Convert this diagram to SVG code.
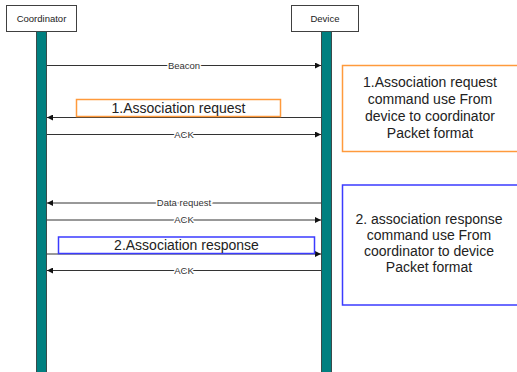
<svg xmlns="http://www.w3.org/2000/svg" width="517" height="372" viewBox="0 0 517 372">
  <style>
    .actor { fill: #ffffff; stroke: #404040; stroke-width: 1; }
    .actor-label { font-family: "Liberation Sans", Arial, sans-serif; font-size: 9.5px; fill: #222; text-anchor: middle; }
    .lifeline { fill: #008080; stroke: #3a4a4a; stroke-width: 1; }
    .msg { stroke: #333; stroke-width: 1; fill: none; }
    .msg-label { font-family: "Liberation Sans", Arial, sans-serif; font-size: 9.5px; fill: #333; text-anchor: middle; stroke: #ffffff; stroke-width: 3; paint-order: stroke; }
    .big { font-family: "Liberation Sans", Arial, sans-serif; font-size: 14px; fill: #222; text-anchor: middle; }
    .orange { fill: #ffffff; stroke: #ff9a3c; stroke-width: 1.5; }
    .blue { fill: #ffffff; stroke: #3b3bff; stroke-width: 1.5; }
  </style>
  <defs>
    <marker id="arrow" viewBox="0 0 10 10" refX="10" refY="5" markerWidth="8" markerHeight="6" markerUnits="userSpaceOnUse" orient="auto">
      <path d="M0,0 L10,5 L0,10 Z" fill="#111"/>
    </marker>
  </defs>
  <rect width="517" height="372" fill="#ffffff"/>

  <!-- actors and lifelines -->
  <g id="coordinator">
    <rect class="actor" x="6.5" y="5.5" width="70" height="26"/>
    <text class="actor-label" x="41.5" y="21.5">Coordinator</text>
    <rect class="lifeline" x="36.5" y="31.5" width="10" height="345"/>
  </g>
  <g id="device">
    <rect class="actor" x="291.5" y="5.5" width="67" height="26"/>
    <text class="actor-label" x="325" y="21.5">Device</text>
    <rect class="lifeline" x="321.5" y="31.5" width="10" height="345"/>
  </g>

  <!-- messages -->
  <g id="connectors">
    <line class="msg" x1="47" y1="65.5" x2="321" y2="65.5" marker-end="url(#arrow)"/>
    <text class="msg-label" x="184" y="68.5">Beacon</text>

    <line class="msg" x1="321" y1="117.5" x2="47" y2="117.5" marker-end="url(#arrow)"/>

    <line class="msg" x1="47" y1="134.5" x2="321" y2="134.5" marker-end="url(#arrow)"/>
    <text class="msg-label" x="184" y="137.5">ACK</text>

    <line class="msg" x1="321" y1="203" x2="47" y2="203" marker-end="url(#arrow)"/>
    <text class="msg-label" x="184" y="206">Data request</text>

    <line class="msg" x1="47" y1="220" x2="321" y2="220" marker-end="url(#arrow)"/>
    <text class="msg-label" x="184" y="223">ACK</text>

    <line class="msg" x1="47" y1="254" x2="321" y2="254" marker-end="url(#arrow)"/>

    <line class="msg" x1="321" y1="270.5" x2="47" y2="270.5" marker-end="url(#arrow)"/>
    <text class="msg-label" x="184" y="273.5">ACK</text>
  </g>

  <!-- message captions -->
  <g id="assoc-request">
    <rect class="orange" x="76.5" y="99.5" width="204" height="17"/>
    <text class="big" x="178.5" y="113">1.Association request</text>
  </g>
  <g id="assoc-response">
    <rect class="blue" x="58.5" y="237" width="256" height="16.5"/>
    <text class="big" x="186.5" y="249.5">2.Association response</text>
  </g>

  <!-- notes -->
  <g id="note-request">
    <rect class="orange" x="342.5" y="65.5" width="180" height="86"/>
    <text class="big" x="430" y="87">1.Association request</text>
    <text class="big" x="430" y="104">command use From</text>
    <text class="big" x="430" y="121">device to coordinator</text>
    <text class="big" x="430" y="138">Packet format</text>
  </g>
  <g id="note-response">
    <rect class="blue" x="342.5" y="185" width="180" height="120"/>
    <text class="big" x="429" y="223.5">2. association response</text>
    <text class="big" x="429" y="239.5">command use From</text>
    <text class="big" x="429" y="255.5">coordinator to device</text>
    <text class="big" x="429" y="271.5">Packet format</text>
  </g>
</svg>
